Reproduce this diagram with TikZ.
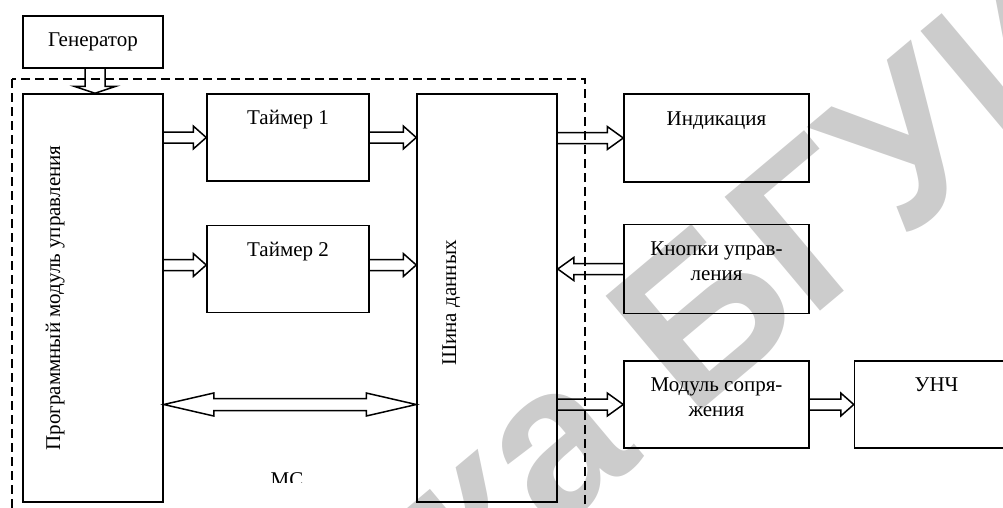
\documentclass[tikz,border=0pt]{standalone}
\usepackage{fontspec}
\setmainfont{Liberation Serif}
\newfontfamily\wmfont{Liberation Sans}
\usetikzlibrary{positioning,calc}
\tikzset{
blk/.style={
  draw,
  line width=1.5pt,
  minimum width=#1,
  inner sep=0pt
  },
blk/.default=162pt,
lbl/.style={
  inner sep=0pt,
  align=center,
  font=\fontsize{21}{25}\selectfont
  },
% hollow block arrow: half shaft, half head, head length
harr/.style n args={3}{
  line width=1.5pt,
  line join=miter,
  to path={
    ($(\tikztostart)!#1!90:(\tikztotarget)$)
    -- ($($(\tikztotarget)!#3!(\tikztostart)$)!#1!90:(\tikztotarget)$)
    -- ($($(\tikztotarget)!#3!(\tikztostart)$)!#2!90:(\tikztotarget)$)
    -- (\tikztotarget)
    -- ($($(\tikztotarget)!#3!(\tikztostart)$)!#2!-90:(\tikztotarget)$)
    -- ($($(\tikztotarget)!#3!(\tikztostart)$)!#1!-90:(\tikztotarget)$)
    -- ($(\tikztostart)!#1!-90:(\tikztotarget)$)
    }
  },
sarr/.style={harr={5.5pt}{11.5pt}{13pt}},
larr/.style={harr={5.5pt}{11.5pt}{16pt}},
% both ends
darr/.style n args={3}{
  line width=1.5pt,
  line join=miter,
  to path={
    (\tikztostart)
    -- ($($(\tikztostart)!#3!(\tikztotarget)$)!#2!90:(\tikztotarget)$)
    -- ($($(\tikztostart)!#3!(\tikztotarget)$)!#1!90:(\tikztotarget)$)
    -- ($($(\tikztotarget)!#3!(\tikztostart)$)!#1!90:(\tikztotarget)$)
    -- ($($(\tikztotarget)!#3!(\tikztostart)$)!#2!90:(\tikztotarget)$)
    -- (\tikztotarget)
    -- ($($(\tikztotarget)!#3!(\tikztostart)$)!#2!-90:(\tikztotarget)$)
    -- ($($(\tikztotarget)!#3!(\tikztostart)$)!#1!-90:(\tikztotarget)$)
    -- ($($(\tikztostart)!#3!(\tikztotarget)$)!#1!-90:(\tikztotarget)$)
    -- ($($(\tikztostart)!#3!(\tikztotarget)$)!#2!-90:(\tikztotarget)$)
    -- cycle
    }
  },
wmark/.style={
  text=black!20,
  inner sep=0pt,
  rotate=40,
  font=\wmfont\bfseries\fontsize{216}{216}\selectfont
  }
}

\begin{document}
\begin{tikzpicture}[x=1pt,y=-1pt]
\useasboundingbox (0,0) rectangle (1003,507);

\begin{scope}[shift={(690,420)},rotate=40]
\node[wmark,anchor=base west] at (0,0)
  (wmb) {БГУИР};
\node[wmark,anchor=base east] at (-60,0)
  (wma) {Библиотека};
\end{scope}

\node[blk=140pt,minimum height=52pt,lbl]
  (gen) at (93,42) {Генератор};
\node[blk=140pt,minimum height=408pt]
  (pmu) at (93,298) {};
\node[blk,minimum height=87pt]
  (tim1) at (288,137.5) {};
\node[blk,minimum height=87pt,below=43pt of tim1]
  (tim2) {};
\node[blk=140pt,minimum height=408pt]
  (bus) at (487,298) {};
\node[blk=185pt,minimum height=88pt]
  (ind) at (716.5,138) {};
\node[blk=185pt,minimum height=89pt,below=41pt of ind]
  (btn) {};
\node[blk=185pt,minimum height=87pt,below=46pt of btn]
  (mod) {};
\node[blk=164pt,minimum height=87pt,right=44pt of mod]
  (unch) {};

\node[lbl,rotate=90] at ([xshift=33pt]pmu.west)
  (pmutxt) {Программный модуль управления};
\node[lbl,rotate=90] at ([xshift=35pt,yshift=-5pt]bus.west)
  (bustxt) {Шина данных};
\node[lbl,below=17pt of tim1.north]
  (tim1txt) {Таймер 1};
\node[lbl,below=17pt of tim2.north]
  (tim2txt) {Таймер 2};
\node[lbl,below=18pt of ind.north]
  (indtxt) {Индикация};
\node[lbl,below=18pt of btn.north]
  (btntxt) {Кнопки управ-\\ления};
\node[lbl,below=17pt of mod.north]
  (modtxt) {Модуль сопря-\\жения};
\node[lbl,below=17pt of unch.north]
  (unchtxt) {УНЧ};

\begin{scope}
\clip (150,460) rectangle (420,482);
\node[lbl,anchor=north] at (287,472)
  (mctxt) {МС};
\end{scope}

\draw[line width=1.3pt,dash pattern=on 9pt off 5pt]
  (12,79) rectangle (585,530);

\draw[harr={10pt}{21pt}{7pt}]
  ([xshift=2pt]gen.south) to ([xshift=2pt]pmu.north);
\draw[sarr]
  (pmu.east |- tim1) to (tim1.west);
\draw[sarr]
  (tim1.east) to (bus.west |- tim1.east);
\draw[sarr]
  ([yshift=4pt]pmu.east |- tim2) to ([yshift=4pt]tim2.west);
\draw[sarr]
  ([yshift=4pt]tim2.east) to ([yshift=4pt]bus.west |- tim2.east);
\draw[larr]
  (bus.east |- ind.west) to (ind.west);
\draw[larr]
  (btn.west) to (bus.east |- btn.west);
\draw[larr]
  (bus.east |- mod.west) to (mod.west);
\draw[sarr]
  (mod.east) to (unch.west);
\draw[darr={6pt}{11.5pt}{50pt}]
  (pmu.east |- mod.west) to (bus.west |- mod.west);
\end{tikzpicture}
\end{document}
